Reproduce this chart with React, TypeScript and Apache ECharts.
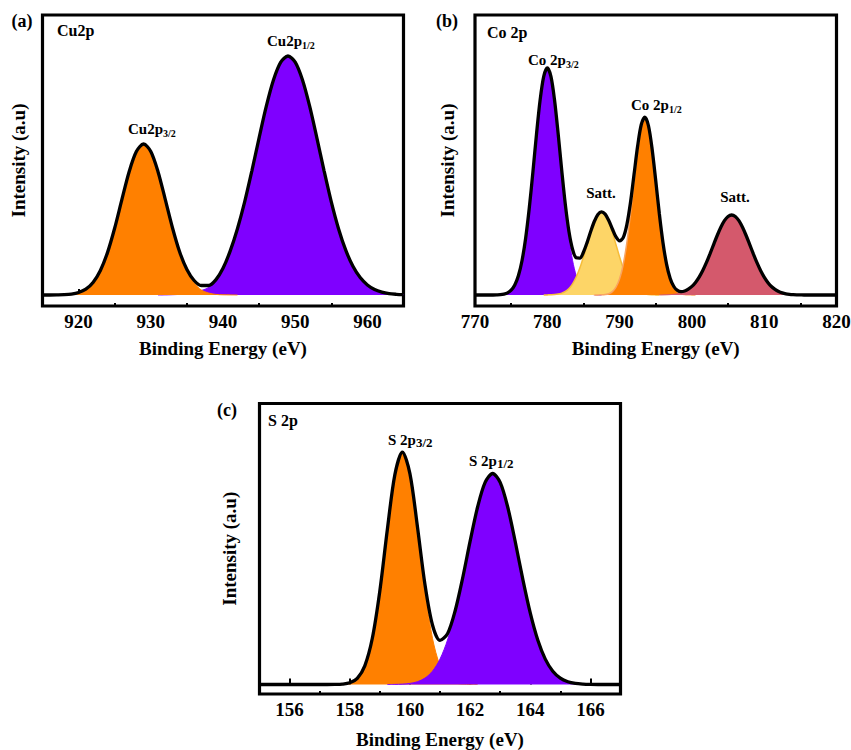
import React, { useEffect, useRef } from "react";
import * as echarts from "echarts";

const FONT = "'Liberation Serif', 'Times New Roman', serif";

// ---------------- (a) Cu 2p ----------------
const cuRange = [915, 965];
const cuMajorTicks = [920, 930, 940, 950, 960];
const cuMinorTicks = [925, 935, 945, 955];
const cuStep = 1;
const cuEnvelopeStart = 915;
const cuEnvelope = [
  0, 0, 0.1, 0.3, 0.9, 2.5, 5.9, 12.6, 24.3, 42.4, 67.0, 95.6, 123.3, 143.5, 151, 143.5, 123.3, 95.7, 67.3, 43.0,
  25.5, 14.5, 9.5, 9.5, 15.1, 26.7, 44.1, 66.3, 93.1, 124.2, 157.2, 188.8, 215.2, 232.8, 239, 232.8, 215.2, 188.8,
  157.2, 124.2, 93.1, 66.3, 44.8, 28.7, 17.4, 10.1, 5.5, 2.9, 1.4, 0.7, 0.3,
];
const cuP12Start = 931;
const cuP12 = [
  0, 0.1, 0.3, 0.6, 1.2, 2.5, 4.5, 7.5, 14.5, 26.5, 44.0, 66.3, 93.1, 124.2, 157.2, 188.8, 215.2, 232.8, 239, 232.8,
  215.2, 188.8, 157.2, 124.2, 93.1, 66.3, 44.8, 28.7, 17.4, 10.1, 5.5, 2.9, 1.4, 0.7, 0.3,
];
const cuP32Start = 916;
const cuP32 = [
  0, 0.1, 0.3, 0.9, 2.5, 5.9, 12.6, 24.3, 42.4, 67.0, 95.6, 123.3, 143.5, 151, 143.5, 123.3, 95.6, 67.0, 42.4, 24.3,
  12.0, 5.0, 2.0, 0.6, 0.2, 0.1, 0,
];

// ---------------- (b) Co 2p ----------------
const coRange = [770, 820];
const coMajorTicks = [770, 780, 790, 800, 810, 820];
const coMinorTicks = [775, 785, 795, 805, 815];
const coStep = 0.5;
const coEnvelopeStart = 770;
const coEnvelope = [
  0, 0, 0, 0, 0, 0,
  0.1, 0.3, 0.9, 2.1, 4.8, 10.0, 19.2, 34.3, 56.6, 86.5, 122.4, 160.4, 194.6, 218.4, 227.1,
  218.6, 195.0, 161.3, 124.3, 90.1, 63.2, 45.5, 37.2, 36.9, 42.8, 52.4, 63.5, 73.5, 80.6, 83.2, 80.9, 74.5, 66.0, 58.1, 54.2,
  57.4, 70.2, 92.2, 120.7, 149.2, 170.5, 177.9, 169.0, 145.8, 114.2, 81.0, 52.3, 30.7, 16.6, 8.5, 4.6, 3.4, 4.0, 5.8, 8.6,
  12.6, 17.9, 24.5, 32.3, 41.1, 50.4, 59.5, 67.7, 74.3, 78.5, 80, 78.5, 74.3, 67.7, 59.5, 50.4, 41.1, 32.3, 24.5, 17.9,
  12.6, 8.5, 5.6, 3.5, 2.1, 1.2, 0.7, 0.4, 0.2, 0.1,
  0, 0, 0, 0, 0, 0, 0, 0, 0, 0,
];
const coP32Start = 772.5;
const coP32 = [
  0, 0.1, 0.3, 0.9, 2.1, 4.8, 10.0, 19.2, 34.3, 56.6, 86.5, 122.4, 160.4, 194.6, 218.4, 227, 218.4, 194.6, 160.4,
  122.4, 86.5, 56.6, 34.3, 19.2, 10.0, 4.8, 2.1, 0.9, 0.3, 0.1, 0,
];
const coSat1Start = 779.5;
const coSat1 = [
  0, 0.1, 0.2, 0.4, 0.9, 1.9, 3.6, 6.6, 11.2, 18.0, 26.9, 38.0, 50.3, 62.6, 73.2, 80.4, 83, 80.4, 73.2, 62.6, 50.3,
  38.0, 26.9, 18.0, 11.2, 6.6, 3.6, 1.9, 0.9, 0.4, 0.2, 0.1, 0,
];
const coP12Start = 786.5;
const coP12 = [
  0, 0.1, 0.2, 0.5, 1.3, 3.4, 7.8, 16.2, 30.5, 52.2, 81.0, 114.1, 145.6, 168.6, 177, 168.6, 145.6, 114.1, 81.0, 52.2,
  30.5, 16.2, 7.8, 3.4, 1.3, 0.5, 0.2, 0.1, 0,
];
const coSat2Start = 795.5;
const coSat2 = [
  0, 0.1, 0.2, 0.4, 0.7, 1.2, 2.1, 3.5, 5.6, 8.5, 12.6, 17.9, 24.5, 32.3, 41.1, 50.4, 59.5, 67.7, 74.3, 78.5, 80,
  78.5, 74.3, 67.7, 59.5, 50.4, 41.1, 32.3, 24.5, 17.9, 12.6, 8.5, 5.6, 3.5, 2.1, 1.2, 0.7, 0.4, 0.2, 0.1, 0,
];

// ---------------- (c) S 2p ----------------
const sRange = [155, 167];
const sMajorTicks = [156, 158, 160, 162, 164, 166];
const sMinorTicks = [157, 159, 161, 163, 165];
const sStep = 0.25;
const sEnvelopeStart = 155;
const sEnvelope = [
  0, 0, 0, 0, 0, 0, 0, 0, 0, 0,
  0.1, 0.4, 1.7, 6.2, 18.7, 46.2, 93.6, 155.0, 209.9, 232.4, 210.9, 157.8, 100.0, 59.5, 44.1, 50.7, 73.3, 106.0,
  143.1, 177.5, 202.1, 211, 202.1, 177.5, 143.0, 105.6, 71.6, 44.5, 25.4, 13.3, 6.4, 2.8, 1.1, 0.4, 0.1,
  0, 0, 0, 0,
];
const sP32Start = 157.25;
const sP32 = [0, 0.1, 0.4, 1.7, 6.2, 18.7, 46.2, 93.6, 155.0, 209.8, 232, 209.8, 155.0, 93.6, 46.2, 18.7, 6.2, 1.7, 0.4, 0.1, 0];
const sP12Start = 159.25;
const sP12 = [
  0, 0.1, 0.4, 1.1, 2.8, 6.4, 13.3, 25.4, 44.5, 71.6, 105.6, 143.0, 177.5, 202.1, 211, 202.1, 177.5, 143.0, 105.6,
  71.6, 44.5, 25.4, 13.3, 6.4, 2.8, 1.1, 0.4, 0.1, 0,
];

const PURPLE = "#7f00ff";
const ORANGE = "#ff8000";
const YELLOW = "#fdd567";
const RED = "#d4596c";

function pairs(start: number, step: number, values: number[]) {
  return values.map((v, i) => [Number((start + i * step).toFixed(3)), v]);
}

function fillSeries(
  name: string,
  axis: number,
  yAxis: number,
  data: number[][],
  color: string,
  edge: string,
  edgeWidth: number,
  z: number
) {
  return {
    type: "line",
    name,
    xAxisIndex: axis,
    yAxisIndex: yAxis,
    data,
    smooth: 0.3,
    symbol: "none",
    showSymbol: false,
    lineStyle: { color: edge, width: edgeWidth },
    areaStyle: { color, opacity: 1 },
    z,
    silent: true,
  };
}

function envelopeSeries(axis: number, yAxis: number, data: number[][]) {
  return {
    type: "line",
    name: "envelope",
    xAxisIndex: axis,
    yAxisIndex: yAxis,
    data,
    smooth: 0.3,
    symbol: "none",
    showSymbol: false,
    lineStyle: { color: "#000", width: 3.3 },
    z: 10,
    silent: true,
  };
}

const labelFont = { fontFamily: FONT, fontWeight: "bold" as const, color: "#000" };

function mainX(grid: number, range: number[], major: number[], nameGap: number) {
  return {
    type: "value",
    gridIndex: grid,
    min: range[0],
    max: range[1],
    position: "bottom",
    axisLine: { show: false },
    splitLine: { show: false },
    axisTick: { show: true, inside: true, length: 6, customValues: major, lineStyle: { color: "#000", width: 2 } },
    axisLabel: { show: true, customValues: major, margin: 6, fontSize: 19, ...labelFont },
    name: "Binding Energy (eV)",
    nameLocation: "middle",
    nameGap,
    nameTextStyle: { fontSize: 19, ...labelFont },
  };
}

function minorX(grid: number, range: number[], minor: number[]) {
  return {
    type: "value",
    gridIndex: grid,
    min: range[0],
    max: range[1],
    position: "bottom",
    axisLine: { show: false },
    splitLine: { show: false },
    axisTick: { show: true, inside: true, length: 3, customValues: minor, lineStyle: { color: "#000", width: 2 } },
    axisLabel: { show: false },
  };
}

function yAx(grid: number, min: number, max: number, nameGap: number) {
  return {
    type: "value",
    gridIndex: grid,
    min,
    max,
    axisLine: { show: false },
    axisTick: { show: false },
    axisLabel: { show: false },
    splitLine: { show: false },
    name: "Intensity (a.u)",
    nameLocation: "middle",
    nameGap,
    nameTextStyle: { fontSize: 19, ...labelFont },
  };
}

function plainText(x: number, y: number, text: string, size: number, align = "center") {
  return {
    type: "text",
    x,
    y,
    z: 100,
    silent: true,
    style: {
      text,
      fontFamily: FONT,
      fontWeight: "bold",
      fontSize: size,
      fill: "#000",
      align,
      verticalAlign: "middle",
    },
  };
}

function peakText(x: number, y: number, main: string, sub: string, subSize: number, subLH: number) {
  return {
    type: "text",
    x,
    y,
    z: 100,
    silent: true,
    style: {
      text: `{m|${main}}{s|${sub}}`,
      align: "left",
      verticalAlign: "middle",
      rich: {
        m: { fontFamily: FONT, fontWeight: "bold", fontSize: 15, lineHeight: 18, fill: "#000", verticalAlign: "middle" },
        s: { fontFamily: FONT, fontWeight: "bold", fontSize: subSize, lineHeight: subLH, fill: "#000", verticalAlign: "bottom" },
      },
    },
  };
}

export default function App() {
  const ref = useRef<HTMLDivElement>(null);

  useEffect(() => {
    if (!ref.current) return;
    const chart = echarts.init(ref.current, undefined, { renderer: "svg" });

    const gridBase = {
      show: true,
      borderColor: "#000",
      borderWidth: 3.2,
      backgroundColor: "transparent",
      containLabel: false,
      outerBoundsMode: "none",
    };

    const option: any = {
      animation: false,
      backgroundColor: "#fff",
      textStyle: { fontFamily: FONT, fontWeight: "bold" },
      grid: [
        { ...gridBase, left: 42.5, top: 15, width: 361, height: 291 },
        { ...gridBase, left: 475, top: 15, width: 361.5, height: 291 },
        { ...gridBase, left: 259.5, top: 403.5, width: 361, height: 290.5 },
      ],
      xAxis: [
        mainX(0, cuRange, cuMajorTicks, 33),
        minorX(0, cuRange, cuMinorTicks),
        mainX(1, coRange, coMajorTicks, 33),
        minorX(1, coRange, coMinorTicks),
        mainX(2, sRange, sMajorTicks, 36),
        minorX(2, sRange, sMinorTicks),
      ],
      yAxis: [yAx(0, -11, 280, 15), yAx(1, -11, 280, 18), yAx(2, -9.5, 281, 21)],
      series: [
        // (a)
        fillSeries("Cu2p1/2", 0, 0, pairs(cuP12Start, cuStep, cuP12), PURPLE, PURPLE, 1, 2),
        fillSeries("Cu2p3/2", 0, 0, pairs(cuP32Start, cuStep, cuP32), ORANGE, ORANGE, 1, 3),
        envelopeSeries(0, 0, pairs(cuEnvelopeStart, cuStep, cuEnvelope)),
        // (b)
        fillSeries("Co2p3/2", 2, 1, pairs(coP32Start, coStep, coP32), PURPLE, PURPLE, 1, 2),
        fillSeries("Satt1", 2, 1, pairs(coSat1Start, coStep, coSat1), YELLOW, "#f6bd3a", 1.5, 3),
        fillSeries("Co2p1/2", 2, 1, pairs(coP12Start, coStep, coP12), ORANGE, "#f9a462", 1.5, 4),
        fillSeries("Satt2", 2, 1, pairs(coSat2Start, coStep, coSat2), RED, RED, 1, 5),
        envelopeSeries(2, 1, pairs(coEnvelopeStart, coStep, coEnvelope)),
        // (c)
        fillSeries("S2p3/2", 4, 2, pairs(sP32Start, sStep, sP32), ORANGE, ORANGE, 1, 2),
        fillSeries("S2p1/2", 4, 2, pairs(sP12Start, sStep, sP12), PURPLE, PURPLE, 1, 3),
        envelopeSeries(4, 2, pairs(sEnvelopeStart, sStep, sEnvelope)),
      ],
      graphic: {
        elements: [
          plainText(22, 21, "(a)", 18),
          plainText(57, 30, "Cu2p", 16, "left"),
          peakText(128, 129, "Cu2p", "3/2", 10, 10),
          peakText(267, 41, "Cu2p", "1/2", 10, 10),

          plainText(447, 21, "(b)", 18),
          plainText(487, 32, "Co 2p", 16, "left"),
          peakText(528, 60, "Co 2p", "3/2", 10, 10),
          plainText(601, 193, "Satt.", 15),
          peakText(631, 105, "Co 2p", "1/2", 10, 10),
          plainText(735, 197, "Satt.", 15),

          plainText(227, 410, "(c)", 18),
          plainText(268, 420, "S 2p", 16, "left"),
          peakText(388, 440, "S 2p", "3/2", 13, 10),
          peakText(469, 461, "S 2p", "1/2", 13, 10),
        ],
      },
    };

    chart.setOption(option);
    return () => {
      chart.dispose();
    };
  }, []);

  return (
    <div
      ref={ref}
      style={{ position: "absolute", left: 0, top: 0, width: 851, height: 750, background: "#fff" }}
    />
  );
}
